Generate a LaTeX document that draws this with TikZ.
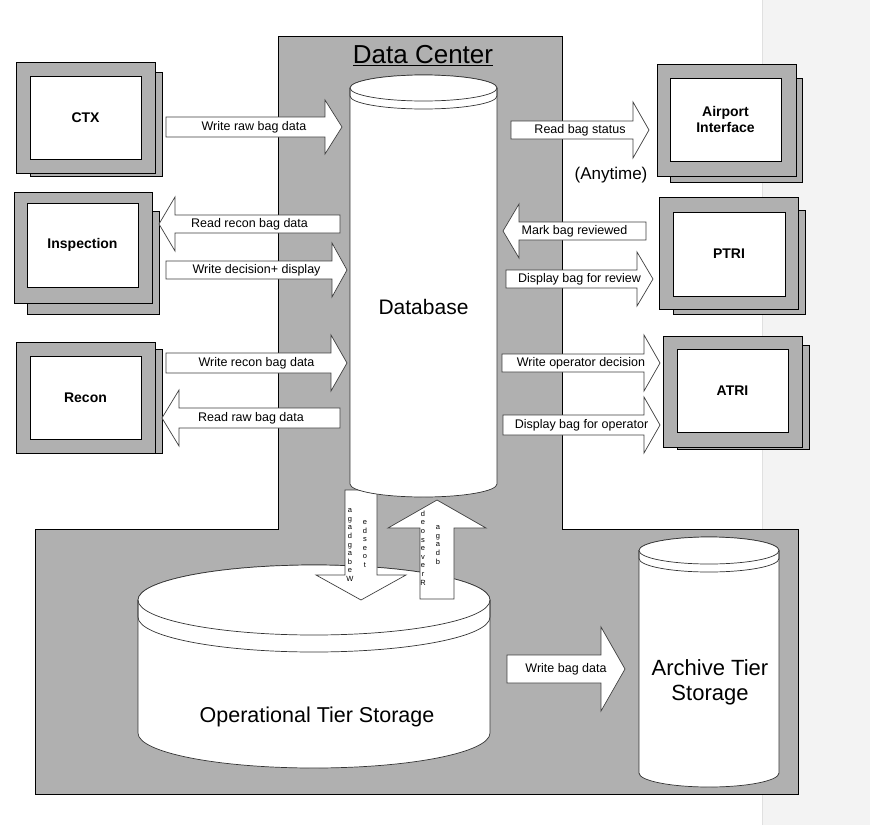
\documentclass[tikz,border=0pt]{standalone}
\usepackage{fontspec}
\setmainfont{Liberation Sans}
\definecolor{pat}{RGB}{176,176,176}
\definecolor{side}{RGB}{243,243,243}
\tikzset{
 panel/.style={fill=pat,draw=black,line width=0.9pt},
 shadowbox/.style={fill=pat,draw=black,line width=0.8pt},
 screen/.style={fill=white,draw=black,line width=0.8pt},
 barrow/.style={fill=white,draw=black!75,line width=0.7pt,line join=miter},
 boxlabel/.style={font=\fontsize{14}{16}\selectfont\bfseries,align=center,inner sep=0pt},
 arrowlabel/.style={font=\fontsize{12.5}{14}\selectfont,inner sep=0pt},
 cyl/.style={fill=white,draw=black!80,line width=0.7pt},
 biglabel/.style={align=center,inner sep=0pt},
 stack/.style={align=center,inner sep=0pt,font=\fontsize{7.5}{8.6}\selectfont},
}
\newcommand\HArrow[8]{%
 \draw[barrow] (#2,#5-#6) -- (#3,#5-#6) -- (#3,#5-#7) -- (#4,#5) -- (#3,#5+#7) -- (#3,#5+#6) -- (#2,#5+#6) -- cycle;
 \node[arrowlabel] (#1) at ({(#2+#4)/2},#5) {#8};}
\newcommand\VArrow[7]{%
 \draw[barrow] (#2-#6,#3) -- (#2-#6,#4) -- (#2-#7,#4) -- (#2,#5) -- (#2+#7,#4) -- (#2+#6,#4) -- (#2+#6,#3) -- cycle;
 \coordinate (#1) at (#2,#5);}
\begin{document}
\begin{tikzpicture}[x=1pt,y=-1pt]
\useasboundingbox (0,0) rectangle (870,825);
\fill[white] (0,0) rectangle (870,825);
\fill[side] (762,0) rectangle (870,825);
\draw[black!12,line width=0.6pt] (762,0) -- (762,825);
% data center panel
\draw[panel] (278,36) -- (562,36) -- (562,529) -- (798,529) -- (798,794) -- (35,794) -- (35,529) -- (278,529) -- cycle;
% left boxes
\draw[shadowbox] (30,72) rectangle (162,176);
\draw[shadowbox] (16,62) rectangle (155,173);
\draw[screen] (30,76) rectangle (141,159);
\node[boxlabel] (ctx) at (85.5,117.5) {CTX};
\draw[shadowbox] (27,211) rectangle (159,314);
\draw[shadowbox] (14,192) rectangle (152,303);
\draw[screen] (27,203) rectangle (138,287);
\node[boxlabel] (insp) at (82.5,245) {Inspection};
\draw[shadowbox] (30,349) rectangle (162,453);
\draw[shadowbox] (16,342) rectangle (155,453);
\draw[screen] (30,356) rectangle (141,439);
\node[boxlabel] (recon) at (85.5,397.5) {Recon};
% right boxes
\draw[shadowbox] (670,78) rectangle (802,182);
\draw[shadowbox] (657,64) rectangle (796,176);
\draw[screen] (670,78) rectangle (781,161);
\node[boxlabel] (airport) at (725.5,119.5) {Airport\\Interface};
\draw[shadowbox] (673,210) rectangle (805,314);
\draw[shadowbox] (659,197) rectangle (798,309);
\draw[screen] (673,212) rectangle (785,296);
\node[boxlabel] (ptri) at (729,254) {PTRI};
\draw[shadowbox] (677,345) rectangle (809,449);
\draw[shadowbox] (663,336) rectangle (802,447);
\draw[screen] (677,349) rectangle (788,432);
\node[boxlabel] (atri) at (732.5,390.5) {ATRI};
% horizontal block arrows
\HArrow{a1}{166}{325}{342}{127}{10}{27}{Write raw bag data}
\HArrow{a2}{340}{175}{159}{224}{9}{27}{Read recon bag data}
\HArrow{a3}{166}{332}{347}{270}{9}{27}{Write decision+ display}
\HArrow{a4}{166}{331}{347}{363}{10}{28}{Write recon bag data}
\HArrow{a5}{340}{179}{162}{418}{10}{28}{Read raw bag data}
\HArrow{a6}{511}{633}{649}{130}{9}{28}{Read bag status}
\HArrow{a7}{646}{519}{503}{231}{9}{27}{Mark bag reviewed}
\HArrow{a8}{506}{637}{653}{279}{9}{27}{Display bag for review}
\HArrow{a9}{502}{644}{660}{363}{9}{28}{Write operator decision}
\HArrow{a10}{503}{644}{660}{425}{10}{28}{Display bag for operator}
\HArrow{a11}{507}{601}{625}{669}{14}{42}{Write bag data}
\node[font=\fontsize{17}{19}\selectfont,inner sep=0pt] (anytime) at (611,175) {(Anytime)};
% operational tier storage
\path[cyl] (138,600) -- (138,733) arc[start angle=180,end angle=360,x radius=176pt,y radius=35pt] -- (490,600) arc[start angle=0,end angle=180,x radius=176pt,y radius=35pt] -- cycle;
\draw[cyl] (314,600) ellipse[x radius=176pt,y radius=35pt];
\draw[cyl,fill=none] (138,600) -- (138,617) arc[start angle=180,end angle=360,x radius=176pt,y radius=35pt] -- (490,600);
\node[biglabel,font=\fontsize{21.5}{24}\selectfont] (ops) at (317,717) {Operational Tier Storage};
% archive tier storage
\path[cyl] (639,550.5) -- (639,773) arc[start angle=180,end angle=360,x radius=70pt,y radius=14pt] -- (779,550.5) arc[start angle=0,end angle=180,x radius=70pt,y radius=13.5pt] -- cycle;
\draw[cyl] (709,550.5) ellipse[x radius=70pt,y radius=13.5pt];
\draw[cyl,fill=none] (639,550.5) -- (639,558.5) arc[start angle=180,end angle=360,x radius=70pt,y radius=13.5pt] -- (779,550.5);
\node[biglabel,font=\fontsize{22}{25}\selectfont] (arch) at (710,682) {Archive Tier\\Storage};
% vertical arrows
\VArrow{dn}{361}{490}{575}{600}{16}{45}
\VArrow{up}{437}{599}{528}{500}{17}{49}
% database
\path[cyl] (350,88) -- (350,484) arc[start angle=180,end angle=360,x radius=73.5pt,y radius=13pt] -- (497,88) arc[start angle=0,end angle=180,x radius=73.5pt,y radius=13pt] -- cycle;
\draw[cyl] (423.5,88) ellipse[x radius=73.5pt,y radius=13pt];
\draw[cyl,fill=none] (350,88) -- (350,96) arc[start angle=180,end angle=360,x radius=73.5pt,y radius=13pt] -- (497,88);
\node[biglabel,font=\fontsize{21}{24}\selectfont] (db) at (423.5,307) {Database};
% garbled vertical texts
\node[stack] (s1) at (350,545) {a\\g\\a\\d\\g\\a\\b\\e\\W};
\node[stack] (s2) at (365,544) {e\\d\\s\\e\\o\\t};
\node[stack] (s3) at (423,548) {d\\e\\o\\s\\e\\v\\e\\r\\R};
\node[stack] (s4) at (438,545) {a\\g\\a\\d\\b};
% title
\node[biglabel,font=\fontsize{26}{28}\selectfont] (title) at (423,56) {\underline{Data Center}};
\end{tikzpicture}
\end{document}
